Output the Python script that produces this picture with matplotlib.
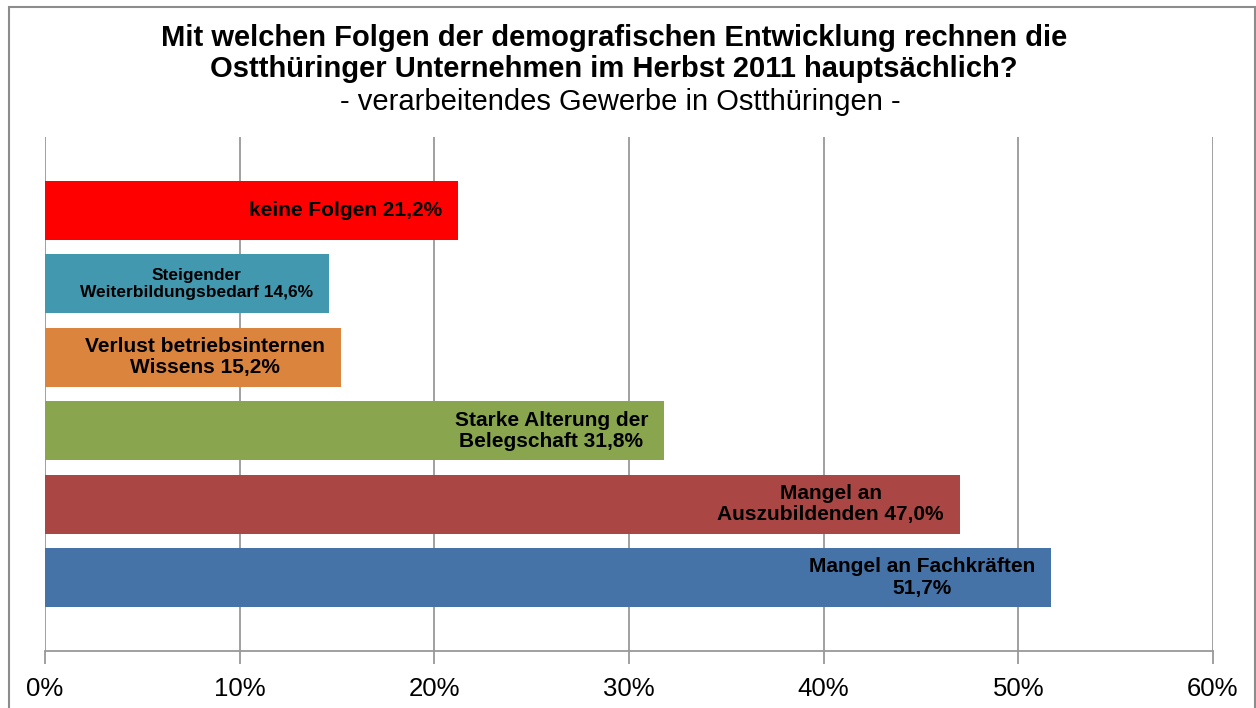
import matplotlib
matplotlib.use("Agg")
import matplotlib.pyplot as plt
from matplotlib.patches import Rectangle
from matplotlib.ticker import FuncFormatter
import matplotlib.transforms as mtransforms

plt.rcParams['font.family'] = ['Liberation Sans', 'DejaVu Sans']

# Data (bottom to top)
labels = ['Mangel an Fachkräften\n51,7%',
          'Mangel an\nAuszubildenden 47,0%',
          'Starke Alterung der\nBelegschaft 31,8%',
          'Verlust betriebsinternen\nWissens 15,2%',
          'Steigender\nWeiterbildungsbedarf 14,6%',
          'keine Folgen 21,2%']
values = [51.7, 47.0, 31.8, 15.2, 14.6, 21.2]
colors = ['#4572A7', '#AA4643', '#89A54E', '#DB843D', '#4198AF', '#FF0000']
label_sizes = [15, 15, 15, 15, 12.5, 15]
xticks = [0, 10, 20, 30, 40, 50, 60]

W, H = 1256, 708
fig = plt.figure(figsize=(W / 100, H / 100), dpi=100)
ax = fig.add_axes([45 / W, (H - 651) / H, (1213 - 45) / W, (651 - 137) / H])

y = list(range(len(values)))
ax.barh(y, values, height=0.8, color=colors, zorder=3)
ax.set_ylim(-1, len(values))
ax.set_xlim(0, 60)

ax.set_xticks(xticks)
ax.xaxis.set_major_formatter(FuncFormatter(lambda v, p: f'{v:.0f}%'))
ax.tick_params(axis='x', labelsize=18.5, length=9, width=1.3, color='#999999', pad=10)
ax.set_yticks([])
ax.grid(axis='x', color='#999999', linewidth=1.3, zorder=0)
for s in ['top', 'right', 'left']:
    ax.spines[s].set_visible(False)
ax.spines['bottom'].set_color('#999999')
ax.spines['bottom'].set_linewidth(1.3)

# Bar labels, inside end
offset = mtransforms.ScaledTranslation(-16 / 100, 0, fig.dpi_scale_trans)
for yi, v, lab, fs in zip(y, values, labels, label_sizes):
    ax.text(v, yi, lab, ha='right', va='center', multialignment='center',
            fontsize=fs, fontweight='bold', color='black', zorder=4,
            linespacing=1.15, transform=ax.transData + offset)

# Titles
fig.text(614 / W, 1 - 38 / H, 'Mit welchen Folgen der demografischen Entwicklung rechnen die',
         ha='center', va='center', fontsize=21, fontweight='bold')
fig.text(614 / W, 1 - 69 / H, 'Ostthüringer Unternehmen im Herbst 2011 hauptsächlich?',
         ha='center', va='center', fontsize=21, fontweight='bold')
fig.text(620 / W, 1 - 102 / H, '- verarbeitendes Gewerbe in Ostthüringen -',
         ha='center', va='center', fontsize=21)

# Chart border
fig.patches.append(Rectangle((9 / W, -0.05), (1255 - 9) / W, 1.05 - 7 / H,
                             transform=fig.transFigure, fill=False,
                             edgecolor='#8C8C8C', linewidth=1.5))

fig.savefig('out.png', dpi=100)
